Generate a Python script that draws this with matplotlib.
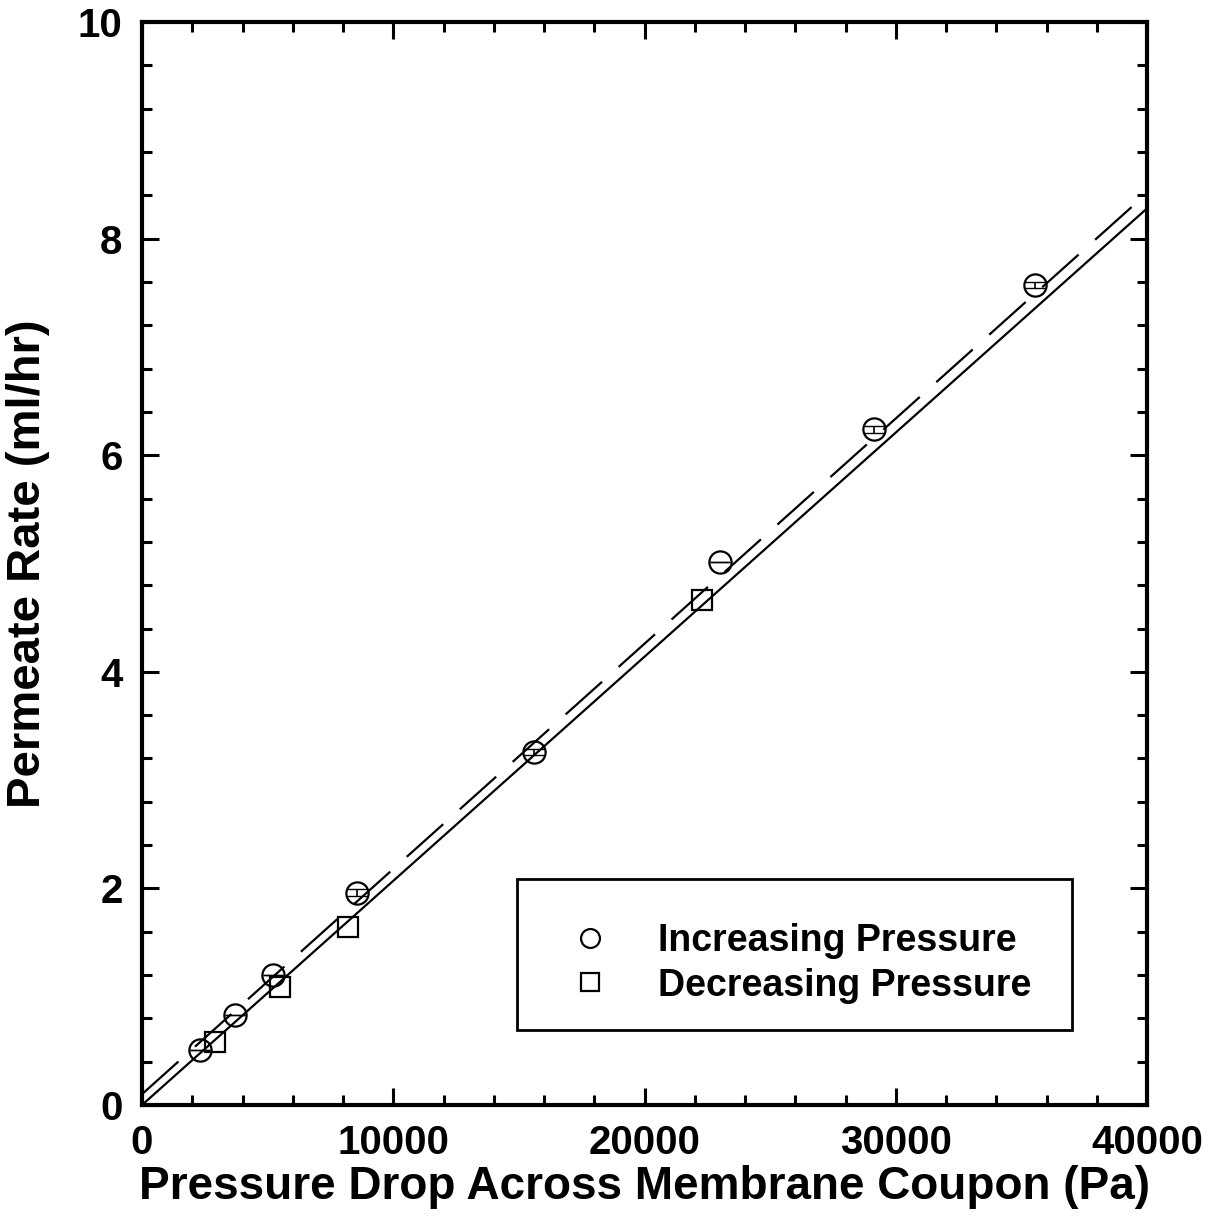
import numpy as np
import matplotlib.pyplot as plt
import matplotlib.ticker as ticker
from matplotlib.patches import Rectangle

# Increasing pressure (circles)
inc_dp = [2300, 3700, 5200, 8550, 15600, 23000, 29150, 35550]
inc_rate = [0.51, 0.83, 1.20, 1.96, 3.26, 5.01, 6.24, 7.57]
inc_err = [0.0, 0.0, 0.0, 0.03, 0.03, 0.0, 0.03, 0.03]

# Decreasing pressure (squares)
dec_dp = [2900, 5500, 8200, 22300]
dec_rate = [0.58, 1.09, 1.64, 4.66]

# Linear fits (slope ml/hr per Pa, intercept ml/hr)
fit_solid = (0.000207, 0.0)
fit_dashed = (0.000208, 0.10)

plt.rcParams["font.family"] = ["Liberation Sans", "DejaVu Sans"]
plt.rcParams["font.weight"] = "bold"

fig = plt.figure(figsize=(12.1, 12.28), dpi=100)
ax = fig.add_axes([0.1174, 0.1002, 0.8306, 0.8818])

xs = np.array([0, 40000])
ax.plot(xs, fit_solid[0] * xs + fit_solid[1], color="black", lw=1.6)
xd = np.array([0, 39400])
ax.plot(xd, fit_dashed[0] * xd + fit_dashed[1], color="black", lw=1.6,
        dashes=(22, 10))

ax.errorbar(inc_dp, inc_rate, yerr=inc_err, fmt="none", ecolor="black",
            elinewidth=1.2, capsize=7)
ax.plot(inc_dp, inc_rate, "o", ms=16, mfc="none", mec="black", mew=1.6,
        label="Increasing Pressure")
ax.plot(dec_dp, dec_rate, "s", ms=15, mfc="none", mec="black", mew=1.6,
        label="Decreasing Pressure")

ax.set_xlim(0, 40000)
ax.set_ylim(0, 10)
ax.xaxis.set_major_locator(ticker.MultipleLocator(10000))
ax.xaxis.set_minor_locator(ticker.MultipleLocator(2000))
ax.yaxis.set_major_locator(ticker.MultipleLocator(2))
ax.yaxis.set_minor_locator(ticker.MultipleLocator(0.4))
ax.tick_params(which="both", direction="in", top=True, right=True, width=2.2)
ax.tick_params(which="major", length=12, labelsize=29, pad=14)
ax.tick_params(which="minor", length=7)
for s in ax.spines.values():
    s.set_linewidth(3)

ax.set_xlabel("Pressure Drop Across Membrane Coupon (Pa)", fontsize=33,
              fontweight="bold", labelpad=2)
ax.set_ylabel("Permeate Rate (ml/hr)", fontsize=34, fontweight="bold",
              labelpad=20)

# legend box drawn separately so the entries can sit low in it
ax.add_patch(Rectangle((0.373, 0.069), 0.552, 0.140, transform=ax.transAxes,
                       fill=True, facecolor="white", edgecolor="black",
                       lw=2, zorder=4))
leg = ax.legend(loc="center left", bbox_to_anchor=(0.405, 0.1307),
                fontsize=27, frameon=False, borderpad=0, handletextpad=0.7,
                markerscale=0.85, borderaxespad=0, handlelength=2.2,
                labelspacing=0.22)
leg.set_zorder(5)

plt.savefig("out.png", dpi=100)
plt.close()
